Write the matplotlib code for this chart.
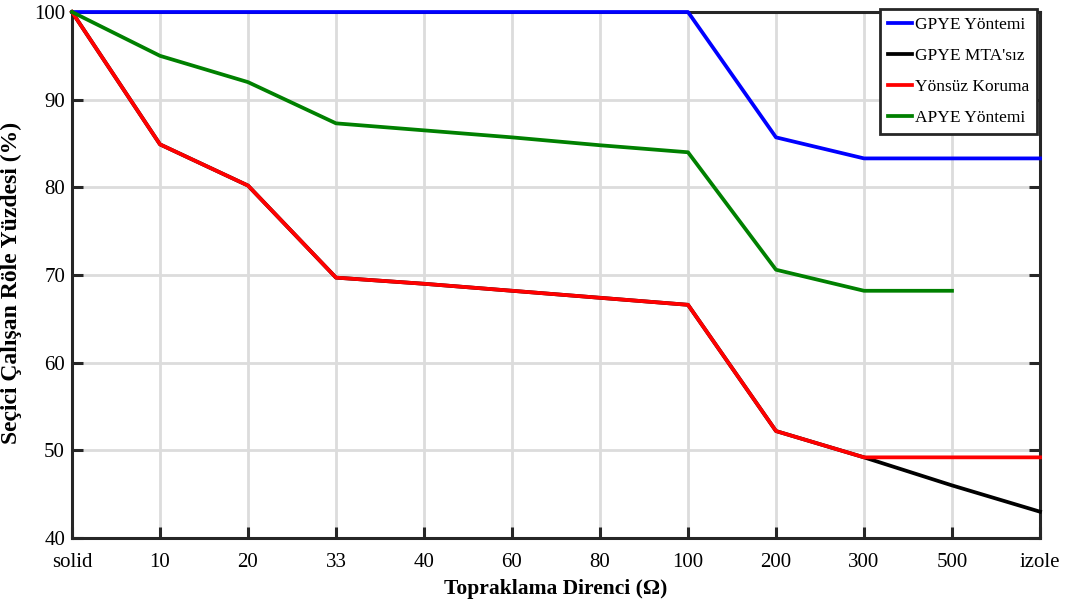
import numpy as np
import matplotlib
matplotlib.use("Agg")
import matplotlib.pyplot as plt

plt.rcParams['font.family'] = ['Liberation Serif', 'DejaVu Serif']
plt.rcParams['mathtext.fontset'] = 'stix'

categories = ["solid", "10", "20", "33", "40", "60", "80", "100", "200", "300", "500", "izole"]
gpye = [100, 100, 100, 100, 100, 100, 100, 100, 85.7, 83.3, 83.3, 83.3]
gpye_mta = [100, 84.9, 80.2, 69.7, 69.0, 68.2, 67.4, 66.6, 52.2, 49.2, 46.0, 43.0]
yonsuz = [100, 84.9, 80.2, 69.7, 69.0, 68.2, 67.4, 66.6, 52.2, 49.2, 49.2, 49.2]
apye = [100, 95.0, 92.0, 87.3, 86.5, 85.7, 84.8, 84.0, 70.6, 68.2, 68.2, np.nan]
yticks = [40, 50, 60, 70, 80, 90, 100]

fig = plt.figure(figsize=(10.72, 6.07), dpi=100)
ax = fig.add_axes([72/1072, 1-538/607, (1040-72)/1072, (538-12)/607])

x = np.arange(len(categories))
lw = 2.7
ax.plot(x, gpye, color='#0000ff', lw=lw, label='GPYE Yöntemi', zorder=7, clip_on=False)
ax.plot(x, gpye_mta, color='black', lw=lw, label="GPYE MTA'sız", zorder=7, clip_on=False)
ax.plot(x, yonsuz, color='#ff0000', lw=lw, label='Yönsüz Koruma', zorder=8, clip_on=False)
ax.plot(x, apye, color='#008000', lw=lw, label='APYE Yöntemi', zorder=9, clip_on=False)

ax.set_xlim(0, len(categories)-1)
ax.set_ylim(40, 100)
ax.set_xticks(x)
ax.set_xticklabels(categories)
ax.set_yticks(yticks)
ax.grid(True, color='#dcdcdc', lw=2.0, zorder=0)
ax.set_axisbelow(True)
for s in ax.spines.values():
    s.set_color('#262626')
    s.set_linewidth(2.2)
    s.set_zorder(6)
ax.tick_params(direction='in', length=8, width=2.2, color='#262626',
               labelsize=15, top=False, right=True)
ax.tick_params(axis='x', pad=11)
ax.tick_params(axis='y', pad=5)

ax.set_xlabel('Topraklama Direnci (Ω)', fontsize=15.5, fontweight='bold', labelpad=5)
ax.set_ylabel('Seçici Çalışan Röle Yüzdesi (%)', fontsize=17, fontweight='bold')
ax.yaxis.set_label_coords((22 - 72) / 968, (538 - 283) / 526)

leg = ax.legend(loc='upper right', bbox_to_anchor=(1.0 - 3/968, 1.0 + 3/526), fontsize=12.5,
                frameon=True, fancybox=False, handlelength=1.4, handletextpad=0.15,
                borderpad=0.45, labelspacing=0.85, borderaxespad=0.0)
leg.get_frame().set_edgecolor('#262626')
leg.get_frame().set_linewidth(2.0)
leg.get_frame().set_alpha(1.0)
leg.set_zorder(10)

fig.savefig('out.png', dpi=100)
